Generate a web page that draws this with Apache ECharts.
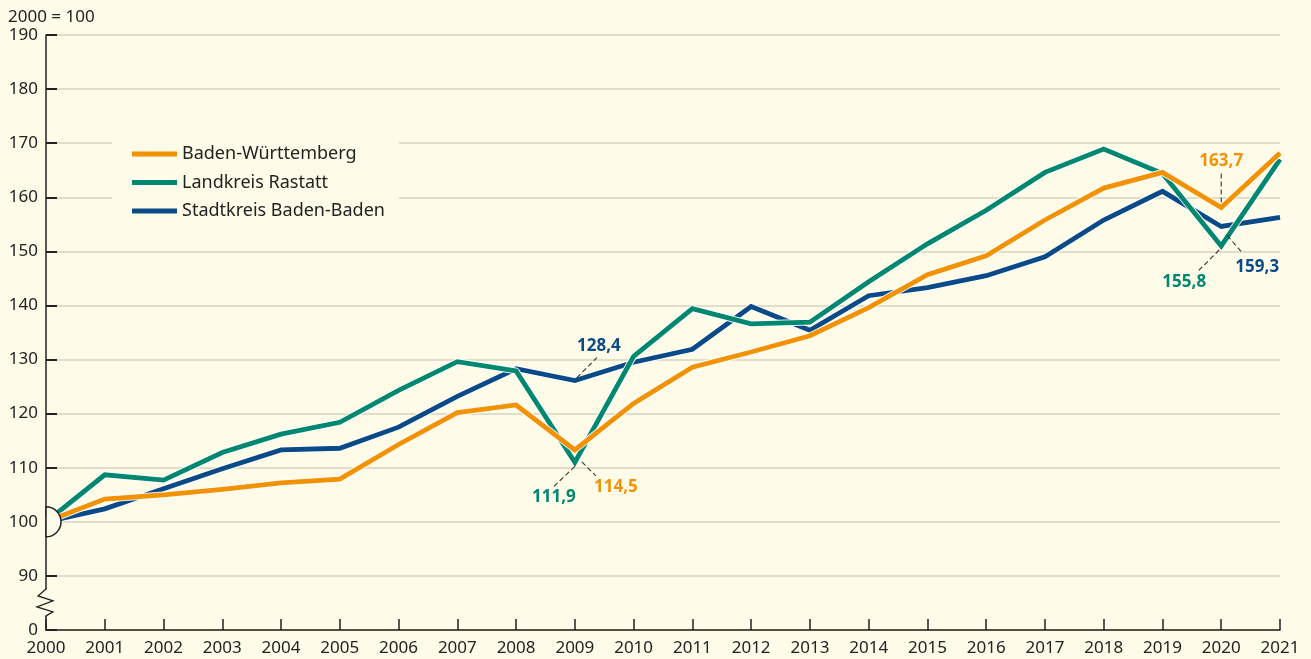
<!DOCTYPE html>
<html style="height: 100%">
<head>
    <meta charset="utf-8">
</head>
<body style="height: 100%; margin: 0; background: #fffbe9">
<div id="container" style="width: 1311px; height: 659px"></div>
<script src="https://cdn.jsdelivr.net/npm/echarts@6/dist/echarts.min.js"></script>
<script>
// Index 2000 = 100
var years = ['2000', '2001', '2002', '2003', '2004', '2005', '2006', '2007', '2008', '2009', '2010',
    '2011', '2012', '2013', '2014', '2015', '2016', '2017', '2018', '2019', '2020', '2021'];
var bw = [100, 104.2, 105.0, 106.0, 107.2, 107.9, 114.3, 120.2, 121.6, 113.3, 121.9,
    128.6, 131.4, 134.4, 139.6, 145.7, 149.2, 155.8, 161.7, 164.6, 158.1, 168.2];
var rastatt = [100, 108.7, 107.7, 112.8, 116.2, 118.4, 124.3, 129.6, 127.9, 111.0, 130.6,
    139.4, 136.6, 136.9, 144.4, 151.4, 157.6, 164.6, 168.9, 164.4, 151.0, 167.0];
var badenBaden = [100, 102.4, 106.1, 109.8, 113.3, 113.6, 117.5, 123.2, 128.3, 126.1, 129.5,
    131.9, 139.8, 135.4, 141.8, 143.3, 145.5, 149.0, 155.8, 161.1, 154.6, 156.3];
var names = ['Baden-Württemberg', 'Landkreis Rastatt', 'Stadtkreis Baden-Baden'];
// annotated values: [label, year, series]
var notes = [
    ['128,4', '2009', 'bb'],
    ['111,9', '2009', 'ra'],
    ['114,5', '2009', 'bw'],
    ['163,7', '2020', 'bw'],
    ['155,8', '2020', 'ra'],
    ['159,3', '2020', 'bb']
];

var bg = '#fffbe9';
var cOrange = '#f39200';
var cGreen = '#008770';
var cBlue = '#0a4a87';
var font = '"Noto Sans", "Liberation Sans", sans-serif';

var dom = document.getElementById('container');
var myChart = echarts.init(dom);

function halo(data) {
    return {
        name: 'halo', type: 'line', data: data, showSymbol: false, silent: true,
        lineStyle: {color: 'rgba(255,255,255,0.9)', width: 6.8}
    };
}
function main(name, data, color) {
    return {
        name: name, type: 'line', data: data, showSymbol: false,
        itemStyle: {color: color},
        lineStyle: {color: color, width: 4.8, join: 'miter'}
    };
}

var option = {
    backgroundColor: bg,
    animation: false,
    textStyle: {fontFamily: font},
    title: {
        text: '2000 = 100', left: 3, top: 4,
        textStyle: {fontSize: 17, fontWeight: 'normal', color: '#222', fontFamily: font}
    },
    grid: {left: 46, right: 31, top: 35, bottom: 29},
    legend: {
        data: names, orient: 'vertical', left: 112, top: 131,
        backgroundColor: bg, padding: [12, 14, 12, 20],
        icon: 'rect', itemWidth: 45, itemHeight: 5, itemGap: 6.5,
        textStyle: {fontSize: 18, color: '#222', lineHeight: 22, fontFamily: font}
    },
    xAxis: {
        type: 'category', data: years, boundaryGap: false,
        axisLine: {lineStyle: {color: '#222', width: 1.5}},
        axisTick: {inside: true, length: 11, lineStyle: {color: '#222', width: 1.5}},
        axisLabel: {fontSize: 17, color: '#222', margin: 10, fontFamily: font, interval: 0}
    },
    yAxis: {
        type: 'value', min: 80, max: 190, interval: 10,
        axisLine: {show: true, lineStyle: {color: '#222', width: 1.5}},
        axisTick: {show: true, inside: true, length: 11, lineStyle: {color: '#222', width: 2}},
        axisLabel: {
            fontSize: 17, color: '#222', margin: 8, fontFamily: font,
            formatter: function (v) { return v === 80 ? '0' : v; }
        },
        splitLine: {lineStyle: {color: '#d6d3bf', width: 1.5}}
    },
    series: [
        halo(badenBaden), main(names[2], badenBaden, cBlue),
        halo(rastatt), main(names[1], rastatt, cGreen),
        halo(bw), main(names[0], bw, cOrange)
    ]
};
myChart.setOption(option);

// annotations, origin marker and axis break, placed from the chart's own scales
var seriesData = {bw: bw, ra: rastatt, bb: badenBaden};
var colorOf = {bw: cOrange, ra: cGreen, bb: cBlue};
// leader line start/end and label centre, relative to the point
var layout = {
    '128,4': [[2, -3], [22, -23], [24, -34]],
    '111,9': [[0, 4], [-23, 26], [-21, 35]],
    '114,5': [[7, 12], [21, 26], [41, 37]],
    '163,7': [[0, -5], [0, -34], [0, -46]],
    '155,8': [[-2, 4], [-24, 26], [-37, 36]],
    '159,3': [[6, 9], [20, 25], [36, 41]]
};
var graphics = [];
notes.forEach(function (n) {
    var idx = years.indexOf(n[1]);
    var p = myChart.convertToPixel({xAxisIndex: 0, yAxisIndex: 0}, [idx, seriesData[n[2]][idx]]);
    var l = layout[n[0]];
    graphics.push({
        type: 'line', z: 20, silent: true,
        shape: {x1: p[0] + l[0][0], y1: p[1] + l[0][1], x2: p[0] + l[1][0], y2: p[1] + l[1][1]},
        style: {stroke: '#333', lineWidth: 1.1, lineDash: [5, 3]}
    });
    graphics.push({
        type: 'text', z: 20, silent: true,
        x: p[0] + l[2][0], y: p[1] + l[2][1],
        style: {
            text: n[0], fill: colorOf[n[2]], font: 'bold 17px ' + font,
            textAlign: 'center', textVerticalAlign: 'middle'
        }
    });
});
// half circle at the origin value 100
var p100 = myChart.convertToPixel({xAxisIndex: 0, yAxisIndex: 0}, [0, 100]);
graphics.push({
    type: 'sector', z: 22, silent: true,
    shape: {cx: p100[0], cy: p100[1], r: 15, r0: 0, startAngle: -Math.PI / 2, endAngle: Math.PI / 2},
    style: {fill: bg, stroke: '#222', lineWidth: 1.5}
});
// zigzag break between 0 and 90
var p90 = myChart.convertToPixel({xAxisIndex: 0, yAxisIndex: 0}, [0, 90]);
var ax = p90[0], y0 = p90[1];
graphics.push({
    type: 'rect', z: 20, silent: true,
    shape: {x: ax - 2, y: y0 + 13, width: 4, height: 27},
    style: {fill: bg}
});
graphics.push({
    type: 'polyline', z: 21, silent: true,
    shape: {points: [[ax, y0 + 12], [ax, y0 + 13], [ax - 8, y0 + 20], [ax + 7, y0 + 25],
        [ax - 9, y0 + 31], [ax + 7, y0 + 36], [ax, y0 + 40], [ax, y0 + 41]]},
    style: {stroke: '#222', lineWidth: 1.3, fill: null}
});
myChart.setOption({graphic: graphics});
</script>
</body>
</html>
